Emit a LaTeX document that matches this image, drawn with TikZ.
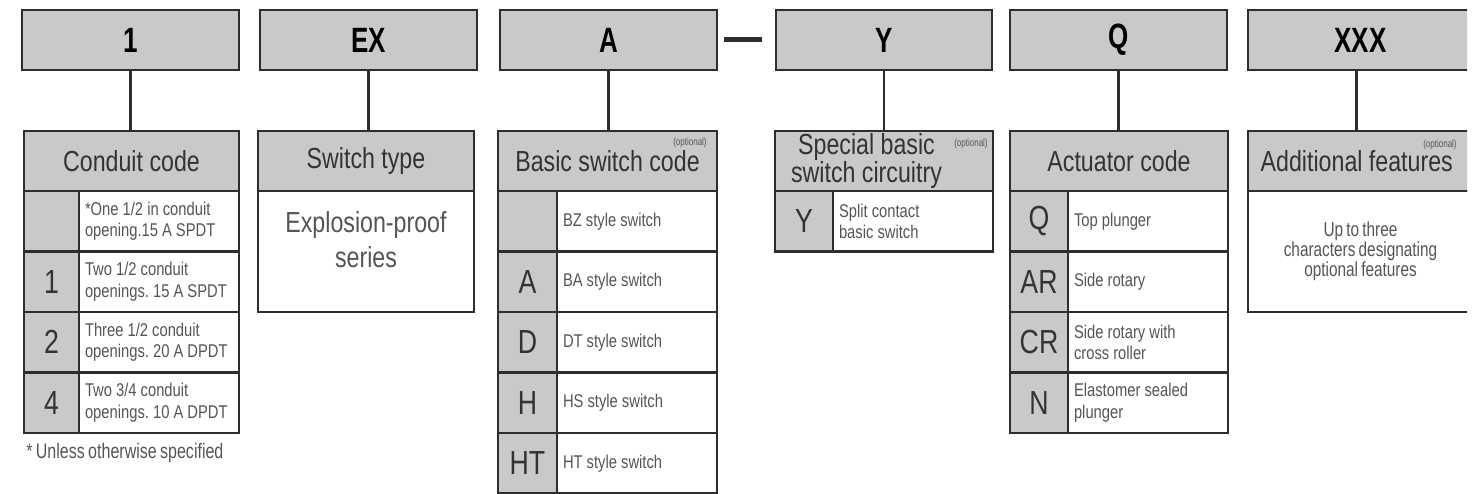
\documentclass[tikz,border=0pt]{standalone}
\usepackage{fontspec}
\setmainfont{Liberation Sans}
\newfontfamily\narrowfont[FakeStretch=0.8]{Liberation Sans}
\newfontfamily\slimfont[FakeStretch=0.76, WordSpace=0.75]{Liberation Sans}
\newfontfamily\heavyfont[FakeStretch=0.74]{Liberation Sans Bold}
\usepackage{xcolor}
\usetikzlibrary{positioning}
\definecolor{cellgray}{HTML}{C9C9C9}
\definecolor{rule}{HTML}{2E2E2E}
\definecolor{ink}{HTML}{333333}
\definecolor{softink}{HTML}{555555}
\tikzset{
    % Part number box
    codebox/.style={
        rectangle,
        draw=rule,
        fill=cellgray,
        line width=1.5pt,
        outer sep=0pt,
        minimum width=4.34cm,
        minimum height=1.2cm,
        font=\heavyfont\fontsize{20}{20}\selectfont,
        text=black
    },
    % Table header
    headcell/.style={
        rectangle,
        draw=rule,
        fill=cellgray,
        line width=1.5pt,
        outer sep=0pt,
        minimum height=1.2cm,
        inner sep=1pt,
        align=center,
        font=\narrowfont\fontsize{16.5}{15}\selectfont,
        text=ink
    },
    % Code column
    keycell/.style={
        rectangle,
        draw=rule,
        fill=cellgray,
        line width=1.5pt,
        outer sep=0pt,
        minimum width=#1,
        minimum height=1.21cm,
        inner sep=0pt,
        font=\narrowfont\fontsize{19}{19}\selectfont,
        text=ink
    },
    keycell/.default=1.16cm,
    % Meaning column
    desccell/.style={
        rectangle,
        draw=rule,
        fill=white,
        line width=1.5pt,
        outer sep=0pt,
        minimum height=1.21cm,
        text width=2.96cm,
        inner xsep=0.12cm,
        align=left,
        font=\narrowfont\fontsize{10.5}{12}\selectfont,
        execute at begin node={\spaceskip=0.22em plus 0.05em\relax\xspaceskip=0.22em\relax},
        text=softink
    },
    % Plain body under a header
    bodycell/.style={
        rectangle,
        draw=rule,
        fill=white,
        line width=1.5pt,
        outer sep=0pt,
        minimum height=2.42cm,
        align=center,
        font=\slimfont\fontsize{11.5}{11.5}\selectfont,
        text=softink
    },
    bodytext/.style={
        align=center,
        font=\narrowfont\fontsize{16.5}{20}\selectfont,
        text=softink
    },
    link/.style={
        draw=rule,
        line width=1.2pt
    },
    tinynote/.style={
        inner sep=0pt,
        font=\slimfont\fontsize{6}{6}\selectfont,
        text=softink
    },
    footnote/.style={
        inner sep=0pt,
        font=\slimfont\fontsize{12}{12}\selectfont,
        text=softink
    }
}
\begin{document}
\begin{tikzpicture}

    \useasboundingbox (0,0) rectangle (29.6,-9.88);
    \clip (0,0) rectangle (29.34,-9.88);

    % Part number
    \node[codebox] (b1) at (2.61,-0.8) {1};
    \node[codebox] (bex) at (7.37,-0.8) {EX};
    \node[codebox] (ba) at (12.17,-0.8) {A};
    \node[fill=rule, minimum width=0.76cm, minimum height=0.1cm, inner sep=0pt] (dash) at (14.86,-0.8) {};
    \node[codebox, minimum width=4.32cm] (by) at (17.68,-0.8) {Y};
    \node[codebox] (bq) at (22.37,-0.8) {Q};
    \node[codebox, minimum width=4.5cm] (bxxx) at (27.21,-0.8) {XXX};

    % Conduit code
    \node[headcell, minimum width=4.30cm, anchor=south west] (conh) at (0.48,-3.82) {Conduit code};
    \node[keycell=1.10cm, anchor=north west] (con0k) at (conh.south west) {};
    \node[desccell, right=0pt of con0k] (con0d) {*One 1/2 in conduit\\opening.15 A SPDT};
    \node[keycell=1.10cm, below=0pt of con0k] (con1k) {1};
    \node[desccell, right=0pt of con1k] (con1d) {Two 1/2 conduit\\openings. 15 A SPDT};
    \node[keycell=1.10cm, below=0pt of con1k] (con2k) {2};
    \node[desccell, right=0pt of con2k] (con2d) {Three 1/2 conduit\\openings. 20 A DPDT};
    \node[keycell=1.10cm, below=0pt of con2k] (con4k) {4};
    \node[desccell, right=0pt of con4k] (con4d) {Two 3/4 conduit\\openings. 10 A DPDT};
    \node[footnote, anchor=west] (note) at (0.52,-9.06) {* Unless otherwise specified};

    % Switch type
    \node[headcell, minimum width=4.32cm, anchor=south west] (swh) at (5.16,-3.82) {Switch type};
    \node[bodycell, minimum width=4.32cm, anchor=north west] (swb) at (swh.south west) {};
    \node[bodytext] (swt) at ([yshift=-0.98cm]swb.north) {Explosion-proof\\series};

    % Basic switch code
    \node[headcell, minimum width=4.38cm, anchor=south west] (bash) at (9.96,-3.82) {Basic switch code};
    \node[tinynote, anchor=north east] (basopt) at ([xshift=-0.2cm, yshift=-0.14cm]bash.north east) {(optional)};
    \node[keycell=1.18cm, anchor=north west] (bas0k) at (bash.south west) {};
    \node[desccell, right=0pt of bas0k] (bas0d) {BZ style switch};
    \node[keycell=1.18cm, below=0pt of bas0k] (basak) {A};
    \node[desccell, right=0pt of basak] (basad) {BA style switch};
    \node[keycell=1.18cm, below=0pt of basak] (basdk) {D};
    \node[desccell, right=0pt of basdk] (basdd) {DT style switch};
    \node[keycell=1.18cm, below=0pt of basdk] (bashk) {H};
    \node[desccell, right=0pt of bashk] (bashd) {HS style switch};
    \node[keycell=1.18cm, below=0pt of bashk] (bashtk) {HT};
    \node[desccell, right=0pt of bashtk] (bashtd) {HT style switch};

    % Special basic switch circuitry
    \node[headcell, minimum width=4.36cm, anchor=south west] (sph) at (15.5,-3.82) {Special basic\hspace*{0.7cm}\\switch circuitry\hspace*{0.7cm}};
    \node[tinynote, anchor=north east] (spopt) at ([xshift=-0.1cm, yshift=-0.16cm]sph.north east) {(optional)};
    \node[keycell, anchor=north west] (spyk) at (sph.south west) {Y};
    \node[desccell, right=0pt of spyk] (spyd) {Split contact\\basic switch};

    % Actuator code
    \node[headcell, minimum width=4.36cm, anchor=south west] (acth) at (20.2,-3.82) {Actuator code};
    \node[keycell, anchor=north west] (actqk) at (acth.south west) {Q};
    \node[desccell, right=0pt of actqk] (actqd) {Top plunger};
    \node[keycell, below=0pt of actqk] (actark) {AR};
    \node[desccell, right=0pt of actark] (actard) {Side rotary};
    \node[keycell, below=0pt of actark] (actcrk) {CR};
    \node[desccell, right=0pt of actcrk] (actcrd) {Side rotary with\\cross roller};
    \node[keycell, below=0pt of actcrk] (actnk) {N};
    \node[desccell, right=0pt of actnk] (actnd) {Elastomer sealed\\plunger};

    % Additional features
    \node[headcell, minimum width=4.5cm, anchor=south west] (addh) at (24.96,-3.82) {Additional features\hspace*{0.15cm}};
    \node[tinynote, anchor=north east] (addopt) at ([xshift=-0.32cm, yshift=-0.18cm]addh.north east) {(optional)};
    \node[bodycell, minimum width=4.5cm, anchor=north west] (addb) at (addh.south west) {Up to three\\characters designating\\optional features};

    % Connections
    \draw[link] (b1.south) -- (b1.south |- conh.north);
    \draw[link] (bex.south) -- (bex.south |- swh.north);
    \draw[link] (ba.south) -- (ba.south |- bash.north);
    \draw[link] (by.south) -- (by.south |- sph.north);
    \draw[link] (bq.south) -- (bq.south |- acth.north);
    \draw[link] ([xshift=-0.08cm]bxxx.south) -- ([xshift=-0.08cm]bxxx.south |- addh.north);

\end{tikzpicture}
\end{document}
